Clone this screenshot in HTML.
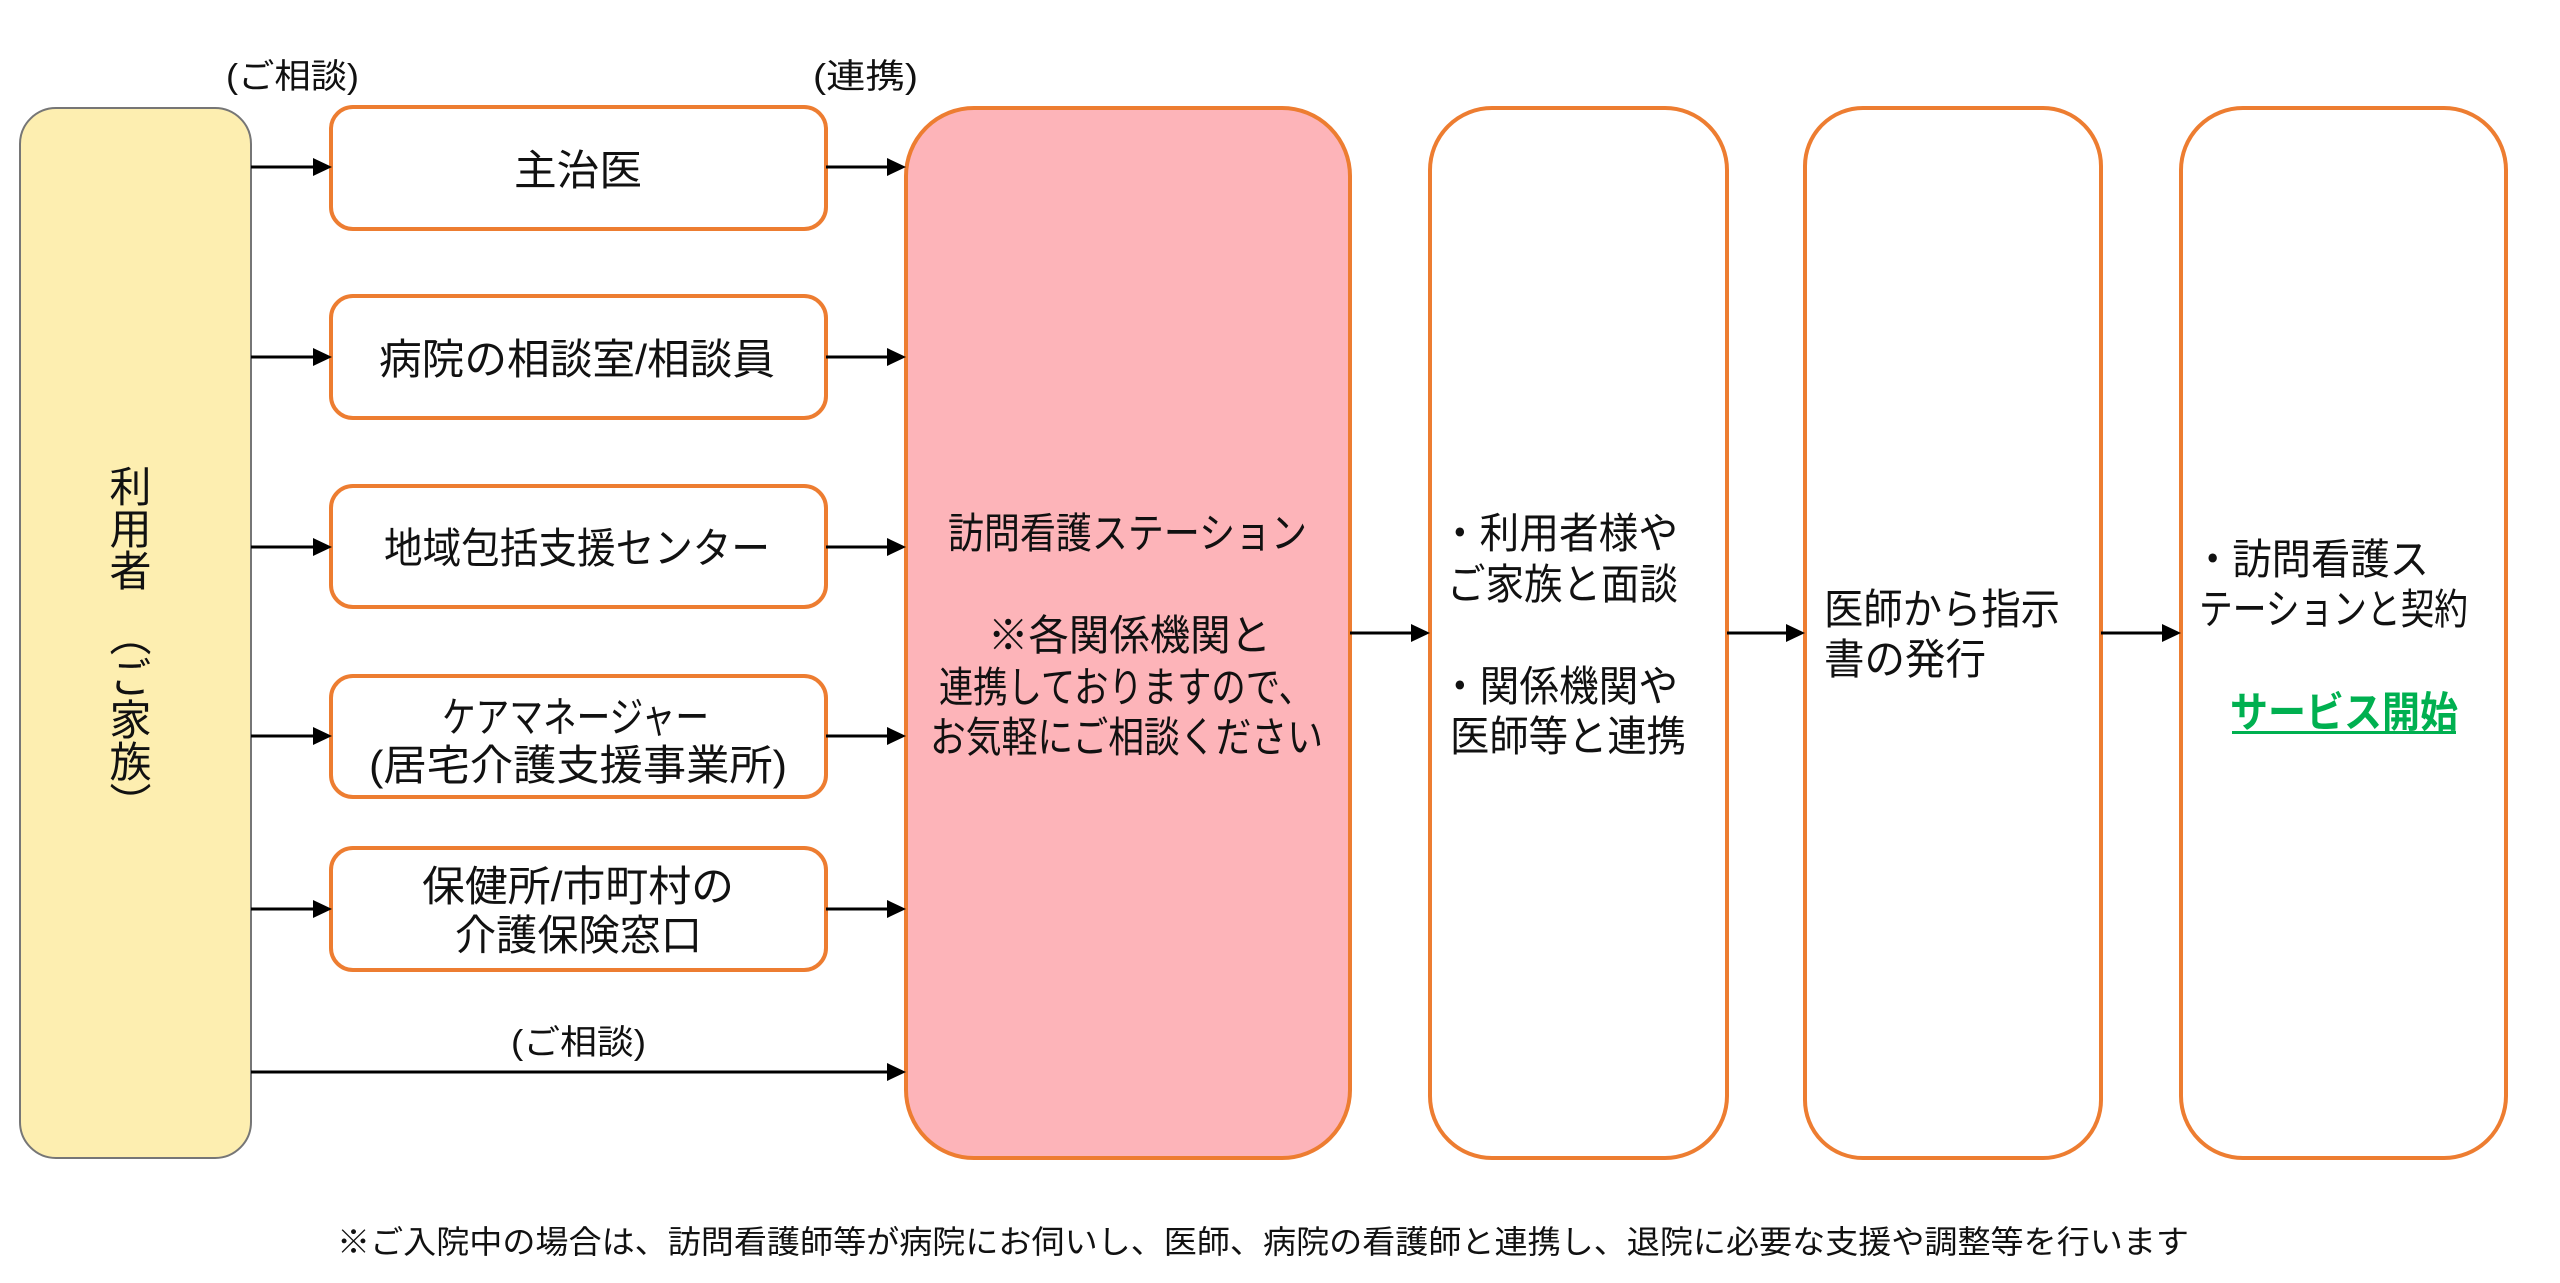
<!DOCTYPE html>
<html lang="ja">
<head>
<meta charset="utf-8">
<style>
  html,body{margin:0;padding:0;background:#fff;}
  body{width:2560px;height:1283px;overflow:hidden;position:relative;}
  svg{position:absolute;left:0;top:0;}
  svg text{font-family:"Liberation Sans","Noto Sans CJK JP",sans-serif;fill:#111;}
  .vt{position:absolute;writing-mode:vertical-rl;font-family:"Noto Sans CJK JP",sans-serif;font-size:42px;line-height:42px;width:42px;color:#111;}
</style>
</head>
<body>
<svg width="2560" height="1283" viewBox="0 0 2560 1283" xmlns="http://www.w3.org/2000/svg">
  <!-- Left user box -->
  <rect x="20" y="108" width="231" height="1050" rx="36" ry="36" fill="#FDEEB0" stroke="#767676" stroke-width="2"/>

  <!-- Small source boxes -->
  <g fill="#fff" stroke="#ED7D31" stroke-width="4">
    <rect x="331" y="107" width="495" height="122" rx="22"/>
    <rect x="331" y="296" width="495" height="122" rx="22"/>
    <rect x="331" y="486" width="495" height="121" rx="22"/>
    <rect x="331" y="676" width="495" height="121" rx="22"/>
    <rect x="331" y="848" width="495" height="122" rx="22"/>
  </g>

  <!-- Big boxes -->
  <rect x="906" y="108" width="444" height="1050" rx="68" fill="#FDB4B9" stroke="#ED7D31" stroke-width="4"/>
  <rect x="1430" y="108" width="297" height="1050" rx="62" fill="#fff" stroke="#ED7D31" stroke-width="4"/>
  <rect x="1805" y="108" width="296" height="1050" rx="58" fill="#fff" stroke="#ED7D31" stroke-width="4"/>
  <rect x="2181" y="108" width="325" height="1050" rx="62" fill="#fff" stroke="#ED7D31" stroke-width="4"/>

  <!-- Arrows -->
  <g stroke="#000" stroke-width="3">
    <line x1="251" y1="167" x2="316" y2="167"/>
    <line x1="251" y1="357" x2="316" y2="357"/>
    <line x1="251" y1="547" x2="316" y2="547"/>
    <line x1="251" y1="736" x2="316" y2="736"/>
    <line x1="251" y1="909" x2="316" y2="909"/>
    <line x1="826" y1="167" x2="890" y2="167"/>
    <line x1="826" y1="357" x2="890" y2="357"/>
    <line x1="826" y1="547" x2="890" y2="547"/>
    <line x1="826" y1="736" x2="890" y2="736"/>
    <line x1="826" y1="909" x2="890" y2="909"/>
    <line x1="251" y1="1072" x2="890" y2="1072"/>
    <line x1="1350" y1="633" x2="1414" y2="633"/>
    <line x1="1727" y1="633" x2="1789" y2="633"/>
    <line x1="2101" y1="633" x2="2165" y2="633"/>
  </g>
  <g fill="#000">
    <polygon points="332,167 313,158 313,176"/>
    <polygon points="332,357 313,348 313,366"/>
    <polygon points="332,547 313,538 313,556"/>
    <polygon points="332,736 313,727 313,745"/>
    <polygon points="332,909 313,900 313,918"/>
    <polygon points="906,167 887,158 887,176"/>
    <polygon points="906,357 887,348 887,366"/>
    <polygon points="906,547 887,538 887,556"/>
    <polygon points="906,736 887,727 887,745"/>
    <polygon points="906,909 887,900 887,918"/>
    <polygon points="906,1072 887,1063 887,1081"/>
    <polygon points="1430,633 1411,624 1411,642"/>
    <polygon points="1805,633 1786,624 1786,642"/>
    <polygon points="2181,633 2162,624 2162,642"/>
  </g>

  <!-- Labels -->
  <text x="226" y="88" font-size="34" textLength="133" lengthAdjust="spacingAndGlyphs">(ご相談)</text>
  <text x="813" y="88" font-size="34" textLength="105" lengthAdjust="spacingAndGlyphs">(連携)</text>
  <text x="511" y="1054" font-size="34" textLength="135" lengthAdjust="spacingAndGlyphs">(ご相談)</text>

  <!-- Small box texts -->
  <g font-size="42">
    <text x="514" y="185" textLength="128" lengthAdjust="spacingAndGlyphs">主治医</text>
    <text x="379" y="374" textLength="396" lengthAdjust="spacingAndGlyphs">病院の相談室/相談員</text>
    <text x="384" y="563" textLength="386" lengthAdjust="spacingAndGlyphs">地域包括支援センター</text>
    <text x="442" y="732" textLength="267" lengthAdjust="spacingAndGlyphs">ケアマネージャー</text>
    <text x="369" y="780" textLength="418" lengthAdjust="spacingAndGlyphs">(居宅介護支援事業所)</text>
    <text x="422" y="901" textLength="312" lengthAdjust="spacingAndGlyphs">保健所/市町村の</text>
    <text x="455" y="950" textLength="247" lengthAdjust="spacingAndGlyphs">介護保険窓口</text>
  </g>

  <!-- Pink box text -->
  <g font-size="42">
    <text x="948" y="548" textLength="359" lengthAdjust="spacingAndGlyphs">訪問看護ステーション</text>
    <text x="988" y="650" textLength="283" lengthAdjust="spacingAndGlyphs">※各関係機関と</text>
    <text x="939" y="702" textLength="374" lengthAdjust="spacingAndGlyphs">連携しておりますので、</text>
    <text x="930" y="752" textLength="393" lengthAdjust="spacingAndGlyphs">お気軽にご相談ください</text>
  </g>

  <!-- Box 2 text -->
  <g font-size="42">
    <text x="1440" y="548" textLength="238" lengthAdjust="spacingAndGlyphs">・利用者様や</text>
    <text x="1447" y="599" textLength="231" lengthAdjust="spacingAndGlyphs">ご家族と面談</text>
    <text x="1440" y="701" textLength="238" lengthAdjust="spacingAndGlyphs">・関係機関や</text>
    <text x="1450" y="751" textLength="236" lengthAdjust="spacingAndGlyphs">医師等と連携</text>
  </g>

  <!-- Box 3 text -->
  <g font-size="42">
    <text x="1824" y="624" textLength="236" lengthAdjust="spacingAndGlyphs">医師から指示</text>
    <text x="1824" y="674" textLength="162" lengthAdjust="spacingAndGlyphs">書の発行</text>
  </g>

  <!-- Box 4 text -->
  <g font-size="42">
    <text x="2193" y="574" textLength="236" lengthAdjust="spacingAndGlyphs">・訪問看護ス</text>
    <text x="2199" y="624" textLength="269" lengthAdjust="spacingAndGlyphs">テーションと契約</text>
    <text x="2230" y="727" textLength="228" lengthAdjust="spacingAndGlyphs" style="fill:#00B050;font-weight:700;">サービス開始</text>
  </g>
  <rect x="2232" y="731" width="224" height="3" fill="#00B050"/>

  <!-- Footnote -->
  <text x="337" y="1253" font-size="32" textLength="1852" lengthAdjust="spacingAndGlyphs">※ご入院中の場合は、訪問看護師等が病院にお伺いし、医師、病院の看護師と連携し、退院に必要な支援や調整等を行います</text>
</svg>

<div class="vt" style="left:109px;top:465px;">利用者</div>
<div class="vt" style="left:109px;top:614px;">（ご家族）</div>
</body>
</html>
